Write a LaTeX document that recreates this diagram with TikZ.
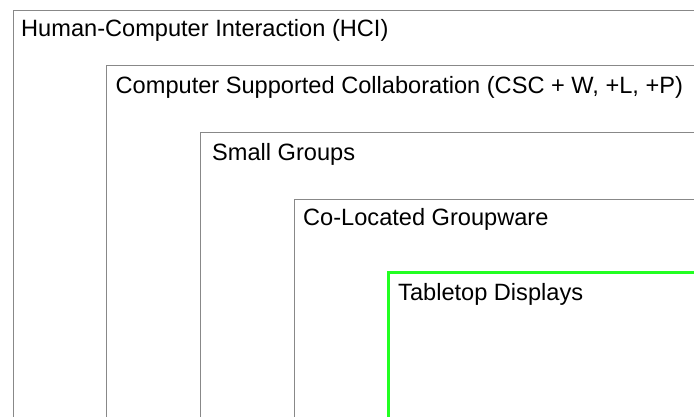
\documentclass[tikz,border=0pt]{standalone}
\usepackage{fontspec}
\setmainfont{Liberation Sans}
\definecolor{boxgray}{RGB}{136,136,136}
\definecolor{hlgreen}{RGB}{34,255,34}
\begin{document}
\begin{tikzpicture}[x=1pt,y=-1pt,
  layer/.style={draw=boxgray,line width=1pt},
  hilayer/.style={draw=hlgreen,line width=3pt},
  lbl/.style={anchor=base west,inner sep=0pt,font=\fontsize{23.6}{28}\selectfont}]
\useasboundingbox (0,0) rectangle (694,416);
\clip (0,0) rectangle (694,416);
\fill[white] (0,0) rectangle (694,416);
\draw[layer] (13,10) rectangle (760,480);
\node[lbl] (hci) at (21,36.8) {Human-Computer Interaction (HCI)};
\draw[layer] (106.5,65.7) rectangle (760,480);
\node[lbl] (csc) at (115.5,93.2) {Computer Supported Collaboration (CSC + W, +L, +P)};
\draw[layer] (200.5,132.7) rectangle (760,480);
\node[lbl] (sg) at (212,160.2) {Small Groups};
\draw[layer] (294,199.3) rectangle (760,480);
\node[lbl] (clg) at (303,225) {Co-Located Groupware};
\draw[hilayer] (388,272) rectangle (760,480);
\node[lbl] (td) at (398,300) {Tabletop Displays};
\end{tikzpicture}
\end{document}
